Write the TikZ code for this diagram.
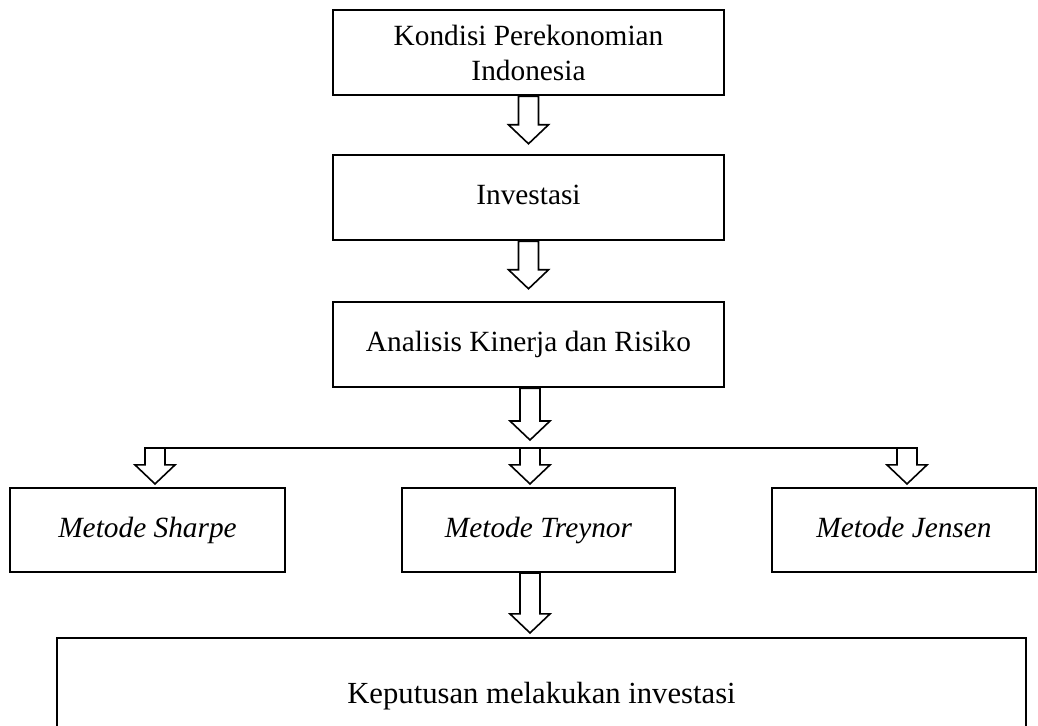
\documentclass[tikz,border=0pt]{standalone}
\usepackage{fontspec}
\setmainfont{Liberation Serif}
\usetikzlibrary{positioning,calc}
\tikzset{
  box/.style={draw, line width=1.6pt, align=center, inner sep=0pt,
    text height=15.5pt, text depth=4.5pt,
    font=\fontsize{22}{26.4}\selectfont},
  blockarrow/.style={draw, fill=white, line width=1.2pt, line join=miter},
  busline/.style={line width=0.8pt}
}
\newcommand{\hollowarrow}[3][10]{%
  \draw[blockarrow] let \p1=(#2), \p2=(#3) in
    (\x1-7.5pt,\y1) -- (\x1-7.5pt,{\y2+(#1+19)*0.75pt}) -- (\x1-15pt,{\y2+(#1+19)*0.75pt})
    -- (\x1,{\y2+#1*0.75pt}) -- (\x1+15pt,{\y2+(#1+19)*0.75pt})
    -- (\x1+7.5pt,{\y2+(#1+19)*0.75pt}) -- (\x1+7.5pt,\y1) -- cycle;}
\begin{document}
\begin{tikzpicture}[x=0.75pt, y=-0.75pt]
  \useasboundingbox (0,0) rectangle (1038,725);
  \clip (0,0) rectangle (1038,725);
  \node[box, text height=, text depth=0pt, minimum width=293pt, minimum height=64pt] (kondisi) at (528.5,52.5) {Kondisi Perekonomian\\Indonesia};
  \node[box, minimum width=293pt, minimum height=64pt] (investasi) at (528.5,197.5) {Investasi};
  \node[box, minimum width=293pt, minimum height=64pt] (analisis) at (528.5,344.5) {Analisis Kinerja dan Risiko};
  \node[box, minimum width=206pt, minimum height=63pt] (sharpe) at (147.5,530) {\itshape Metode Sharpe};
  \node[box, minimum width=205pt, minimum height=63pt] (treynor) at (538.5,530) {\itshape Metode Treynor};
  \node[box, minimum width=198pt, minimum height=63pt] (jensen) at (904,530) {\itshape Metode Jensen};
  \node[box, minimum width=727pt, minimum height=87pt, font=\fontsize{23}{27.6}\selectfont] (keputusan) at (541.5,696) {Keputusan melakukan investasi};
  \coordinate (bus) at (530,448);
  \coordinate (busL) at (155,448);
  \coordinate (busR) at (907,448);
  \draw[busline] (busL) -- (busR);
  \hollowarrow{kondisi.south}{investasi.north}
  \hollowarrow[12]{investasi.south}{analisis.north}
  \hollowarrow[8]{analisis.south -| bus}{bus}
  \hollowarrow[3]{busL}{sharpe.north}
  \hollowarrow[3]{bus}{treynor.north}
  \hollowarrow[3]{busR}{jensen.north}
  \hollowarrow[4]{treynor.south -| bus}{keputusan.north}
\end{tikzpicture}
\end{document}
